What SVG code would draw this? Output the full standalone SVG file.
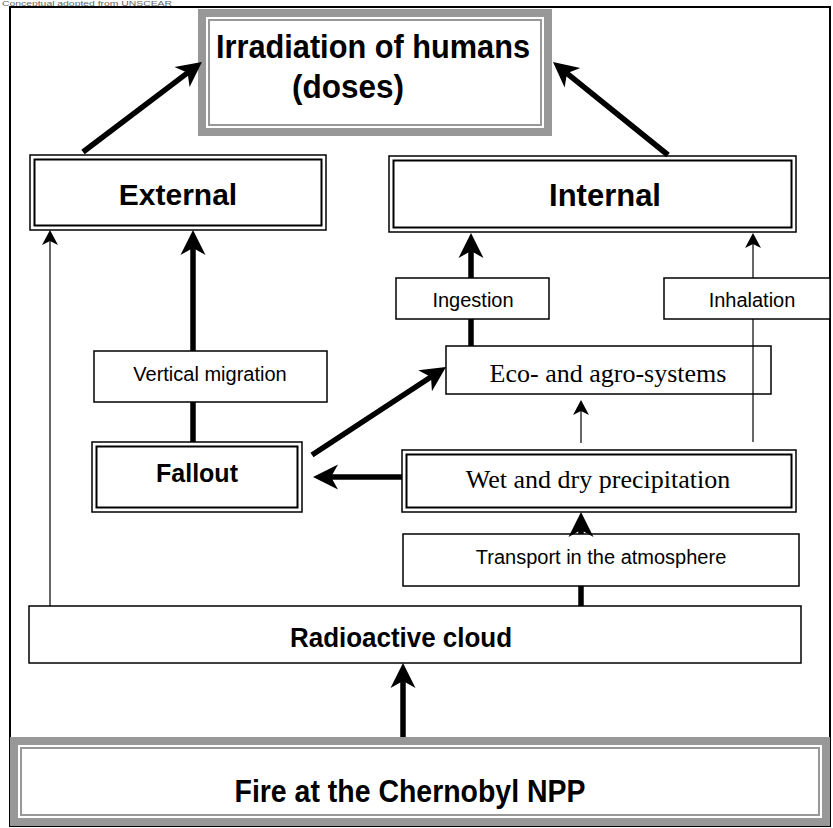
<svg xmlns="http://www.w3.org/2000/svg" width="833" height="828" viewBox="0 0 833 828">
<style>
.box{fill:#fff;stroke:#000;stroke-width:1.5}
.dbl-in{fill:none;stroke:#000;stroke-width:2}
.gray-out{fill:#989898}
.gray-gap{fill:#fff}
.gray-in{fill:#fff;stroke:#989898;stroke-width:2}
.narrow{font-family:"Liberation Sans Narrow","Liberation Sans",Arial,sans-serif;font-weight:bold;text-anchor:middle}
.bold{font-family:"Liberation Sans",Arial,sans-serif;font-weight:bold;text-anchor:middle}
.reg{font-family:"Liberation Sans",Arial,sans-serif;font-size:20px;text-anchor:middle}
.serif{font-family:"Liberation Serif","Times New Roman",serif;font-size:26px;text-anchor:middle}
.thick{stroke:#000;stroke-width:5.5;fill:none}
.thin{stroke:#000;stroke-width:1.2;fill:none}
</style>
<defs>
<marker id="big" viewBox="-27 -14 29 28" markerWidth="29" markerHeight="28" refX="-14" refY="0" orient="auto" markerUnits="userSpaceOnUse">
<path d="M0,0 L-25,-12.5 L-18,0 L-25,12.5 Z" fill="#000"/>
</marker>
<marker id="small" viewBox="-17 -9 18 18" markerWidth="18" markerHeight="18" refX="-8" refY="0" orient="auto" markerUnits="userSpaceOnUse">
<path d="M0,0 L-15,-8 L-11,0 L-15,8 Z" fill="#000"/>
</marker>
</defs>
<rect width="833" height="828" fill="#fff"/>
<text x="2" y="6" font-family="Liberation Sans, Arial, sans-serif" font-size="7" fill="#666" textLength="170" lengthAdjust="spacingAndGlyphs">Conceptual adopted from UNSCEAR</text>
<rect x="10" y="7" width="820" height="819" fill="none" stroke="#000" stroke-width="2"/>

<g id="irradiation">
<rect class="gray-out" x="198" y="9" width="354" height="127"/>
<rect class="gray-gap" x="206" y="17" width="338" height="111"/>
<rect class="gray-in" x="209" y="20" width="332" height="105"/>
<text class="narrow" x="373" y="58" font-size="34" textLength="314" lengthAdjust="spacingAndGlyphs">Irradiation of humans</text>
<text class="narrow" x="348" y="98" font-size="34" textLength="112" lengthAdjust="spacingAndGlyphs">(doses)</text>
</g>

<g id="external">
<rect class="box" x="30" y="155" width="296" height="75"/>
<rect class="dbl-in" x="34.5" y="159.5" width="287" height="66"/>
<text class="bold" x="178" y="205" font-size="30">External</text>
</g>

<g id="internal">
<rect class="box" x="389" y="156" width="407" height="76"/>
<rect class="dbl-in" x="393.5" y="160.5" width="398" height="67"/>
<text class="bold" x="605" y="206" font-size="31">Internal</text>
</g>

<g id="ingestion">
<rect class="box" x="396" y="278" width="153" height="41"/>
<text class="reg" x="473" y="307">Ingestion</text>
</g>

<g id="inhalation">
<rect class="box" x="664" y="278" width="166" height="41"/>
<text class="reg" x="752" y="307">Inhalation</text>
</g>

<g id="vertical-migration">
<rect class="box" x="94" y="351" width="233" height="51"/>
<text class="reg" x="210" y="381">Vertical migration</text>
</g>

<g id="eco-agro">
<rect class="box" x="446" y="346" width="325" height="48"/>
<text class="serif" x="608" y="382">Eco- and agro-systems</text>
</g>

<g id="fallout">
<rect class="box" x="92" y="442" width="210" height="70"/>
<rect class="dbl-in" x="96.5" y="446.5" width="201" height="61"/>
<text class="bold" x="197" y="482" font-size="25">Fallout</text>
</g>

<g id="wet-dry">
<rect class="box" x="402" y="450" width="394" height="62"/>
<rect class="dbl-in" x="406.5" y="454.5" width="385" height="53"/>
<text class="serif" x="598" y="488">Wet and dry precipitation</text>
</g>

<g id="transport">
<rect class="box" x="403" y="534" width="396" height="52"/>
<text class="reg" x="601" y="564">Transport in the atmosphere</text>
</g>

<g id="radioactive-cloud">
<rect class="box" x="29" y="606" width="772" height="57" stroke-width="1.2"/>
<text class="narrow" x="401" y="647" font-size="27" textLength="222" lengthAdjust="spacingAndGlyphs">Radioactive cloud</text>
</g>

<g id="fire">
<rect class="gray-out" x="10" y="737" width="820" height="89"/>
<rect class="gray-gap" x="18" y="745" width="804" height="73"/>
<rect class="gray-in" x="21" y="748" width="798" height="67"/>
<text class="narrow" x="410" y="802" font-size="31" textLength="351" lengthAdjust="spacingAndGlyphs">Fire at the Chernobyl NPP</text>
</g>

<g id="connectors">
<line class="thick" x1="83" y1="152" x2="190.8" y2="70.4" marker-end="url(#big)" stroke-width="4.5"/>
<line class="thick" x1="668" y1="155" x2="563.9" y2="70.8" marker-end="url(#big)" stroke-width="4.5"/>
<line class="thin" x1="50" y1="606" x2="50" y2="238" marker-end="url(#small)"/>
<line class="thick" x1="193" y1="351" x2="193" y2="244" marker-end="url(#big)"/>
<line class="thick" x1="193" y1="442" x2="193" y2="402"/>
<line class="thick" x1="471" y1="278" x2="471" y2="247" marker-end="url(#big)"/>
<line class="thick" x1="471" y1="346" x2="471" y2="319"/>
<line class="thin" x1="753" y1="278" x2="753" y2="241" marker-end="url(#small)"/>
<line class="thin" x1="753" y1="442" x2="753" y2="319"/>
<line class="thin" x1="581" y1="443" x2="581" y2="408" marker-end="url(#small)"/>
<line class="thick" x1="402" y1="477" x2="327" y2="477" marker-end="url(#big)"/>
<line class="thick" x1="312" y1="455" x2="434.3" y2="374.7" marker-end="url(#big)" stroke-width="5"/>
<line class="thick" x1="581" y1="606" x2="581" y2="586"/>
<line class="thick" x1="581" y1="534" x2="581" y2="526" marker-end="url(#big)"/>
<line class="thick" x1="403" y1="737" x2="403" y2="677" marker-end="url(#big)"/>
</g>
</svg>
